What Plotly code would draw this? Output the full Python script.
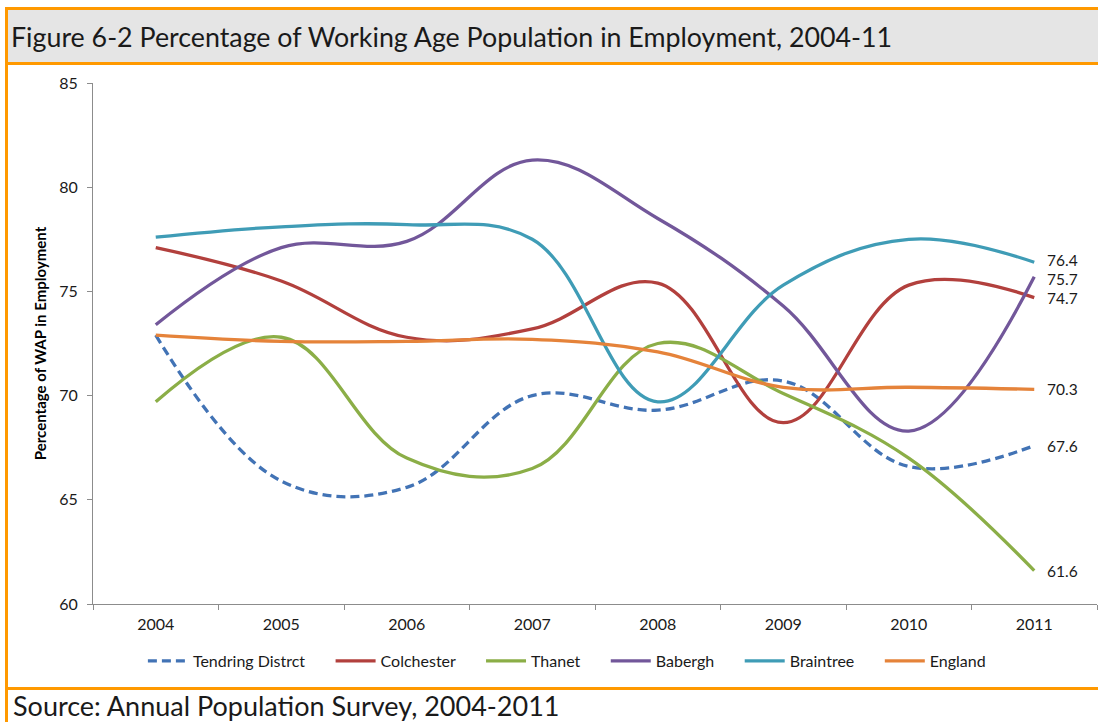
import plotly.graph_objects as go

years = ["2004", "2005", "2006", "2007", "2008", "2009", "2010", "2011"]
tendring = [72.9, 65.9, 65.6, 70.0, 69.3, 70.7, 66.6, 67.6]
colchester = [77.1, 75.5, 72.8, 73.2, 75.4, 68.7, 75.3, 74.7]
thanet = [69.7, 72.8, 67.0, 66.5, 72.5, 70.1, 67.0, 61.6]
babergh = [73.4, 77.1, 77.4, 81.3, 78.5, 74.3, 68.3, 75.7]
braintree = [77.6, 78.1, 78.2, 77.5, 69.7, 75.3, 77.5, 76.4]
england = [72.9, 72.6, 72.6, 72.7, 72.1, 70.4, 70.4, 70.3]

series_names = ["Tendring Distrct", "Colchester", "Thanet", "Babergh", "Braintree", "England"]
series_values = [tendring, colchester, thanet, babergh, braintree, england]
colors = ["#4273B5", "#B2403D", "#8BAE47", "#72579A", "#3F9CB6", "#E5833A"]
dashes = ["9px,5px", "solid", "solid", "solid", "solid", "solid"]
label_nudge = [0, 0, 0, -2, 2, 0]  # small vertical nudges so end labels don't collide

title_text = "Figure 6-2 Percentage of Working Age Population in Employment, 2004-11"
source_text = "Source: Annual Population Survey, 2004-2011"
y_title = "Percentage of WAP in Employment"

FONT = "Lato"
W, H = 1098, 722
L, R, T, B = 93, 1097, 83, 604  # plot area pixel box


def px(x):
    return (x - L) / (R - L)


def py(y):
    return (B - y) / (B - T)


fig = go.Figure()
last_idx = len(years) - 1
pad = "\u00a0" * 5
for i, (name, vals, col, dsh, nud) in enumerate(zip(series_names, series_values, colors, dashes, label_nudge)):
    legend_name = name + (pad if i < len(series_names) - 1 else "")
    fig.add_trace(go.Scatter(
        x=years, y=vals, name=legend_name, mode="lines",
        line=dict(color=col, width=3.3, dash=dsh, shape="spline", smoothing=1.1),
        hovertemplate=name + ": %{y}<extra></extra>",
    ))
    fig.add_annotation(x=last_idx, y=vals[-1], xref="x", yref="y",
                       text=f"{vals[-1]:.1f}", showarrow=False,
                       xanchor="left", yanchor="middle", xshift=11, yshift=nud,
                       font=dict(family=FONT, size=15.5, color="#1a1a1a"))

shapes = [
    # title band
    dict(type="rect", xref="paper", yref="paper", x0=px(8), x1=px(1098), y0=py(62), y1=py(10),
         fillcolor="#e5e5e5", line=dict(width=0), layer="below"),
    # orange frame lines
    dict(type="rect", xref="paper", yref="paper", x0=px(5), x1=px(1098), y0=py(10), y1=py(7),
         fillcolor="#FF9900", line=dict(width=0)),
    dict(type="rect", xref="paper", yref="paper", x0=px(5), x1=px(1098), y0=py(65), y1=py(62),
         fillcolor="#FF9900", line=dict(width=0)),
    dict(type="rect", xref="paper", yref="paper", x0=px(5), x1=px(1098), y0=py(690), y1=py(687),
         fillcolor="#FF9900", line=dict(width=0)),
    dict(type="rect", xref="paper", yref="paper", x0=px(5), x1=px(8), y0=py(722), y1=py(7),
         fillcolor="#FF9900", line=dict(width=0)),
]

fig.add_annotation(xref="paper", yref="paper", x=px(9), y=py(37), text=title_text, showarrow=False,
                   xanchor="left", yanchor="middle", font=dict(family=FONT, size=26.8, color="#1a1a1a"))
fig.add_annotation(xref="paper", yref="paper", x=px(11), y=py(705), text=source_text, showarrow=False,
                   xanchor="left", yanchor="middle", font=dict(family=FONT, size=27, color="#1a1a1a"))

fig.update_layout(
    width=W, height=H,
    margin=dict(l=L, r=W - R, t=T, b=H - B, pad=0),
    paper_bgcolor="white", plot_bgcolor="white",
    font=dict(family=FONT, size=15, color="#1a1a1a"),
    shapes=shapes,
    showlegend=True,
    legend=dict(orientation="h", x=0.472, xanchor="center", y=py(661), yanchor="middle",
                font=dict(family=FONT, size=16, color="#1a1a1a"),
                itemwidth=40, tracegroupgap=0, bgcolor="rgba(0,0,0,0)"),
    xaxis=dict(type="category", range=[-0.5, 7.5], showgrid=False, zeroline=False,
               showline=True, linecolor="#8c8c8c", linewidth=1,
               ticks="outside", ticklen=5, tickcolor="#8c8c8c", tickson="boundaries",
               tickfont=dict(family=FONT, size=16, color="#1a1a1a"), ticklabelstandoff=6),
    yaxis=dict(range=[60, 85], dtick=5, showgrid=False, zeroline=False,
               showline=True, linecolor="#8c8c8c", linewidth=1,
               ticks="outside", ticklen=5, tickcolor="#8c8c8c",
               tickfont=dict(family=FONT, size=16, color="#1a1a1a"), ticklabelstandoff=6,
               title=dict(text=f"<b>{y_title}</b>", standoff=8,
                          font=dict(family=FONT, size=15, color="#000000"))),
)

fig.write_html("out.html", config={"displayModeBar": False},
               post_script="document.body.style.margin='0';document.body.style.overflow='hidden';")
